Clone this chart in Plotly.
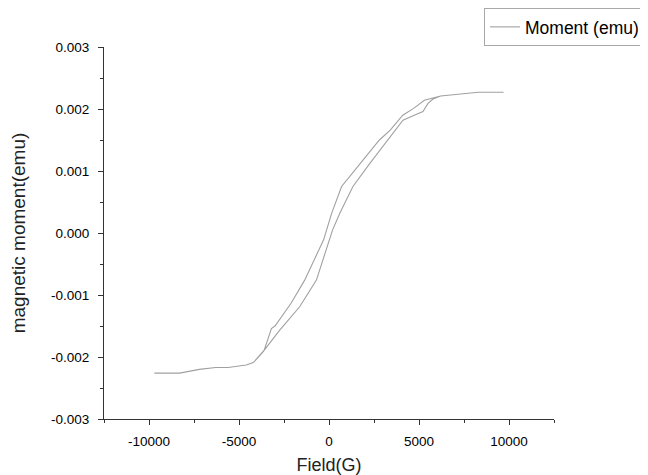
import plotly.graph_objects as go

# Descending branch (high field -> low field)
field_down = [9700, 8300, 6200, 5750, 5300, 4700, 4100, 3400, 2800, 1900, 700, 150, -300,
              -1350, -2100, -3000, -3200, -3600, -4000, -4200, -4600, -5600, -6300, -7200, -8300, -9700]
moment_down = [0.00227, 0.00227, 0.00221, 0.00218, 0.00214, 0.00201, 0.00190, 0.00166, 0.00150,
               0.00118, 0.00075, 0.00032, -0.00011, -0.00076, -0.00113, -0.00150, -0.00154,
               -0.00189, -0.00202, -0.00209, -0.00213, -0.00217, -0.00217, -0.00220, -0.00226, -0.00226]

# Ascending branch (low field -> high field)
field_up = [-9700, -8300, -7200, -6300, -5600, -4600, -4200, -3700, -2750, -1630, -700, 40, 200,
            600, 1330, 2260, 3370, 4110, 4670, 5220, 5500, 5780, 6200, 8300, 9700]
moment_up = [-0.00226, -0.00226, -0.00220, -0.00217, -0.00217, -0.00213, -0.00209, -0.00193,
             -0.00157, -0.00119, -0.00076, -0.00011, 0.00005, 0.00032, 0.00075, 0.00112, 0.00153,
             0.00182, 0.00189, 0.00196, 0.00209, 0.00216, 0.00221, 0.00227, 0.00227]

field = field_down + field_up[1:]
moment = moment_down + moment_up[1:]

x_ticks = [-10000, -5000, 0, 5000, 10000]
y_ticks = [-0.003, -0.002, -0.001, 0.0, 0.001, 0.002, 0.003]

fig = go.Figure()
fig.add_trace(go.Scatter(
    x=field, y=moment, mode="lines", name="Moment (emu)",
    line=dict(color="#a0a0a0", width=1.1),
))

font_family = "Liberation Sans, Arial, sans-serif"
axis_col = "#333333"

# The page body adds an 8px offset, so the figure is 8px smaller in each direction
W, H = 640, 467

fig.update_layout(
    width=W, height=H,
    margin=dict(l=96, r=94, t=39, b=56, autoexpand=False),
    paper_bgcolor="white", plot_bgcolor="white",
    font=dict(family=font_family, color="black", size=13.5),
    showlegend=True,
    legend=dict(
        xref="container", yref="container",
        x=637 / W, y=1.0, xanchor="right", yanchor="top",
        bgcolor="white", bordercolor="#a8a8a8", borderwidth=1,
        font=dict(size=17.5, family=font_family, color="black"),
        itemwidth=30, tracegroupgap=0,
    ),
    xaxis=dict(
        range=[-12500, 12500], tickvals=x_ticks, ticktext=[str(v) for v in x_ticks],
        showline=True, linecolor=axis_col, linewidth=1.2,
        ticks="outside", ticklen=5, tickcolor=axis_col, tickwidth=1.2,
        minor=dict(dtick=2500, tick0=0, ticks="outside", ticklen=3, tickcolor=axis_col, tickwidth=1.2),
        showgrid=False, zeroline=False, automargin=False,
        ticklabelstandoff=5,
        title=dict(text="Field(G)", font=dict(size=18, family=font_family, color="#222222"), standoff=11),
        tickfont=dict(size=13.5, color="black"),
    ),
    yaxis=dict(
        range=[-0.003, 0.003], tickvals=y_ticks, ticktext=["%.3f" % v for v in y_ticks],
        showline=True, linecolor=axis_col, linewidth=1.2,
        ticks="outside", ticklen=5, tickcolor=axis_col, tickwidth=1.2,
        minor=dict(dtick=0.0005, tick0=0, ticks="outside", ticklen=3, tickcolor=axis_col, tickwidth=1.2),
        showgrid=False, zeroline=False, automargin=False,
        ticklabelstandoff=6,
        title=dict(text="magnetic moment(emu)", font=dict(size=19, family=font_family, color="#222222"), standoff=41),
        tickfont=dict(size=13.5, color="black"),
    ),
)

fig.write_html("out.html")
